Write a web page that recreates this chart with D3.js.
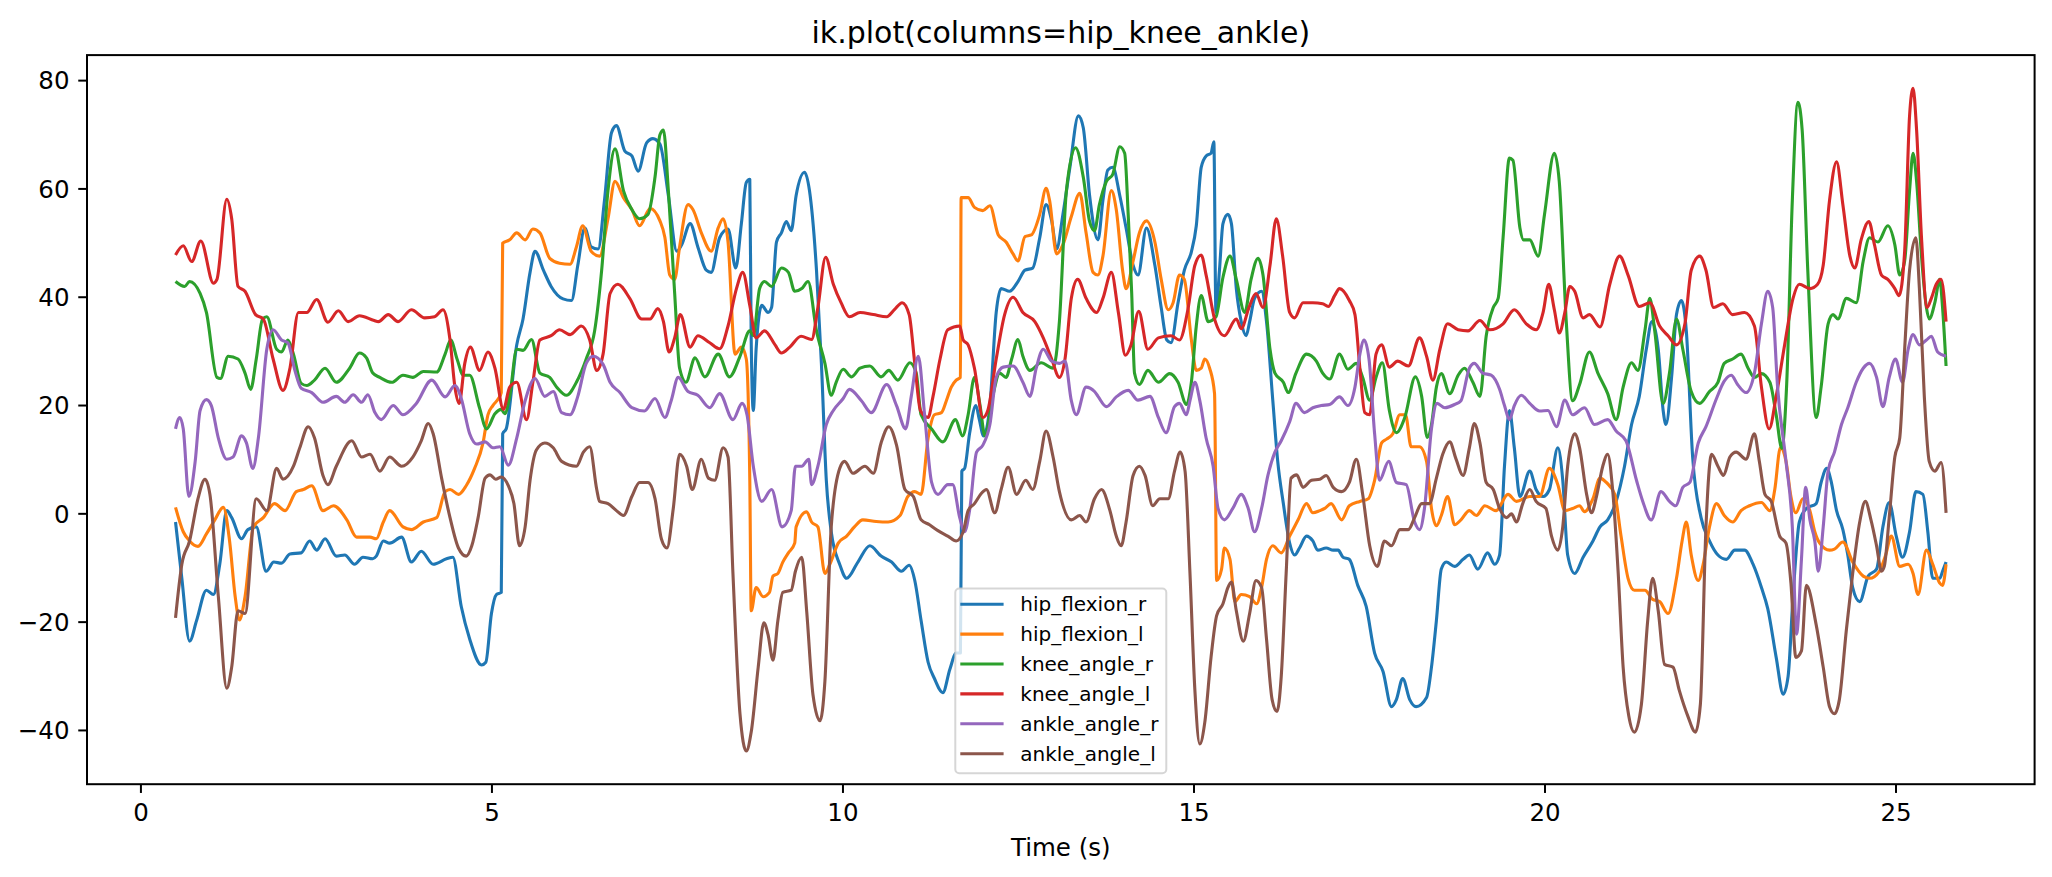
<!DOCTYPE html>
<html>
<head>
<meta charset="utf-8">
<script src="https://cdn.jsdelivr.net/npm/d3@7"></script>
<style>
  html, body { margin: 0; padding: 0; background: #ffffff; }
  svg { display: block; }
  text { font-family: "DejaVu Sans", sans-serif; fill: #000; }
</style>
</head>
<body>
<svg id="chart" width="2052" height="877"></svg>
<script>
// ---- data: [time (s), angle (deg)] ----
const hipFlexionR = [
[0.50,-1.6],[0.59,-12.0],[0.70,-23.6],[0.80,-19.8],[0.94,-14.2],[1.04,-15.0],[1.13,-9.4],[1.23,0.5],[1.30,-0.8],[1.44,-4.7],[1.53,-3.0],[1.65,-2.5],[1.79,-10.7],[1.90,-9.0],[2.01,-9.2],[2.13,-7.5],[2.29,-7.3],[2.41,-5.1],[2.51,-6.8],[2.63,-4.7],[2.79,-7.9],[2.91,-7.7],[3.05,-9.4],[3.17,-8.1],[3.31,-8.4],
[3.36,-7.9],[3.46,-5.1],[3.55,-5.5],[3.72,-4.4],[3.86,-9.0],[4.00,-7.0],[4.17,-9.4],[4.36,-8.4],[4.45,-8.1],[4.57,-17.2],[4.69,-23.2],[4.86,-28.0],[4.92,-27.5],[5.00,-18.5],[5.07,-15.0],[5.14,-14.6],[5.16,14.7],[5.21,15.6],[5.36,31.1],[5.45,35.9],[5.55,44.5],[5.62,48.4],[5.74,44.9],[5.85,41.9],[6.02,39.6],[6.14,39.3],[6.23,45.8],[6.33,52.7],[6.42,49.2],[6.52,48.8],[6.61,57.8],[6.71,70.3],
[6.78,71.6],[6.90,66.9],[7.00,66.0],[7.09,63.2],[7.21,68.4],[7.30,69.2],[7.40,68.2],[7.52,58.7],[7.64,48.4],[7.71,49.6],[7.83,53.5],[7.94,49.2],[8.06,44.9],[8.13,44.5],[8.25,50.9],[8.37,52.5],[8.48,45.3],[8.56,53.5],[8.63,61.1],[8.68,61.7],[8.70,32.0],[8.73,19.0],[8.77,30.3],[8.85,38.4],[8.94,37.1],[8.99,38.0],[9.06,50.1],[9.13,51.8],[9.20,53.9],[9.27,52.2],[9.34,58.7],[9.46,63.0],[9.53,59.6],[9.63,44.9],[9.70,27.7],[9.77,6.1],[9.84,-3.4],[9.96,-9.4],[10.06,-12.0],
[10.22,-9.0],[10.39,-6.0],[10.55,-7.9],[10.70,-9.0],[10.84,-10.7],[10.95,-9.6],[11.03,-12.4],[11.12,-19.8],[11.22,-27.5],[11.31,-30.5],[11.43,-33.1],[11.53,-28.8],[11.62,-25.8],[11.68,-25.8],[11.70,7.8],[11.74,8.3],[11.81,14.7],[11.90,19.9],[11.95,17.3],[12.01,14.3],[12.10,19.9],[12.19,37.1],[12.26,41.5],[12.38,41.0],[12.50,42.8],[12.60,44.9],[12.71,45.3],[12.81,50.9],[12.90,57.0],[12.98,54.0],[13.05,48.8],[13.14,55.2],[13.24,63.9],[13.36,73.4],[13.43,71.2],[13.52,58.7],
[13.64,50.5],[13.71,57.8],[13.78,63.4],[13.85,63.9],[13.95,58.7],[14.04,52.7],[14.14,45.8],[14.21,44.0],[14.33,52.7],[14.45,45.8],[14.54,38.0],[14.62,32.0],[14.68,31.5],[14.78,38.9],[14.87,44.9],[14.97,48.3],[15.04,53.1],[15.11,63.9],[15.18,66.0],[15.25,66.5],[15.29,68.6],[15.32,37.1],[15.37,44.9],[15.42,53.5],[15.49,55.2],[15.54,53.5],[15.61,41.5],[15.68,35.4],[15.75,32.8],[15.80,35.4],[15.87,39.7],[15.97,41.0],[16.04,35.4],[16.13,20.8],[16.20,9.6],[16.28,1.8],[16.37,-5.5],[16.44,-7.7],[16.51,-6.4],[16.61,-4.2],[16.70,-5.1],[16.77,-6.8],[16.89,-6.4],[16.99,-6.8],
[17.06,-6.8],[17.13,-8.1],[17.22,-8.5],[17.34,-13.3],[17.46,-17.2],[17.58,-25.8],[17.70,-29.2],[17.82,-35.7],[17.89,-34.4],[17.98,-30.5],[18.08,-34.4],[18.17,-35.7],[18.32,-34.0],[18.39,-28.4],[18.46,-19.8],[18.53,-10.3],[18.60,-9.0],[18.72,-9.8],[18.84,-8.5],[18.93,-7.7],[19.05,-10.3],[19.19,-7.3],[19.29,-9.4],[19.36,-7.7],[19.43,8.7],[19.50,19.0],[19.57,12.1],[19.65,3.1],[19.79,7.8],[19.88,4.4],[19.98,3.1],[20.07,4.4],[20.19,12.1],[20.26,6.1],[20.33,-7.7],
[20.43,-11.1],[20.55,-8.1],[20.69,-5.1],[20.79,-2.5],[20.90,-1.2],[21.02,2.2],[21.14,8.7],[21.24,16.4],[21.35,21.6],[21.45,30.3],[21.53,35.4],[21.62,30.3],[21.69,19.0],[21.73,16.4],[21.81,25.1],[21.88,36.7],[21.95,39.3],[22.02,33.7],[22.11,10.4],[22.23,-0.8],[22.35,-5.1],[22.47,-7.7],[22.59,-8.5],[22.71,-6.8],[22.85,-6.8],[22.97,-9.4],[23.09,-13.7],[23.18,-17.6],[23.30,-26.6],[23.40,-33.4],[23.47,-30.1],[23.54,-15.4],[23.63,-1.6],[23.73,0.9],
[23.87,1.8],[23.94,5.7],[24.02,8.3],[24.08,6.1],[24.16,0.5],[24.25,-3.0],[24.32,-7.7],[24.39,-13.7],[24.49,-16.3],[24.61,-11.6],[24.73,-10.3],[24.82,-2.5],[24.91,2.0],[25.01,-4.2],[25.10,-8.1],[25.20,-3.4],[25.29,4.0],[25.39,3.5],[25.46,-3.4],[25.53,-12.0],[25.63,-12.0],[25.67,-10.7],[25.72,-9.0]
];

const hipFlexionL = [
[0.50,1.1],[0.61,-3.4],[0.70,-5.1],[0.82,-6.1],[0.94,-3.8],[1.06,-1.2],[1.18,1.1],[1.27,-5.1],[1.35,-15.4],[1.41,-19.7],[1.49,-15.4],[1.61,-2.5],[1.75,-0.8],[1.91,1.8],[2.06,0.5],[2.22,4.0],[2.32,4.4],[2.44,5.1],[2.60,0.5],[2.75,1.4],[2.94,-1.2],[3.08,-4.4],[3.27,-4.4],
[3.36,-4.7],[3.46,-1.6],[3.55,0.5],[3.74,-2.5],[3.86,-3.0],[4.03,-1.6],[4.22,-0.8],[4.34,4.0],[4.41,4.4],[4.53,3.5],[4.64,5.1],[4.76,8.3],[4.88,13.0],[4.95,18.2],[5.02,19.9],[5.10,21.2],[5.14,22.3],[5.16,49.9],[5.26,50.5],[5.36,51.8],[5.48,50.5],[5.59,52.5],[5.69,51.8],[5.83,47.1],[5.97,46.2],[6.12,46.0],[6.21,49.2],[6.30,53.1],[6.42,48.4],[6.54,47.5],[6.66,54.4],[6.76,61.3],
[6.88,58.3],[7.00,56.1],[7.11,53.1],[7.26,56.3],[7.40,54.0],[7.47,51.0],[7.54,44.0],[7.61,43.2],[7.68,49.2],[7.80,57.0],[7.87,56.1],[7.99,51.8],[8.13,48.4],[8.23,52.7],[8.30,54.4],[8.37,50.1],[8.47,29.4],[8.56,30.7],[8.63,28.5],[8.68,6.1],[8.70,-18.0],[8.77,-13.7],[8.87,-15.4],[8.96,-14.6],[9.01,-11.6],[9.08,-11.1],[9.15,-9.0],[9.23,-7.3],[9.32,-5.5],[9.34,-2.5],[9.49,0.3],[9.56,-1.6],[9.65,-2.5],[9.75,-11.1],[9.82,-9.4],[9.94,-5.5],[10.06,-4.2],[10.17,-2.5],
[10.29,-1.2],[10.48,-1.5],[10.65,-1.6],[10.82,-0.4],[10.93,3.1],[11.03,4.0],[11.12,3.5],[11.22,13.9],[11.31,18.2],[11.41,18.6],[11.48,20.8],[11.55,23.3],[11.62,24.6],[11.68,25.1],[11.69,58.3],[11.79,58.3],[11.88,56.5],[12.00,55.9],[12.10,56.8],[12.22,51.4],[12.33,50.1],[12.43,47.9],[12.50,46.6],[12.60,51.1],[12.69,51.4],[12.81,55.2],[12.90,60.0],[12.95,57.8],[13.05,47.9],[13.14,49.6],[13.26,54.8],[13.38,59.1],[13.47,51.8],[13.57,44.5],
[13.64,44.0],[13.71,47.5],[13.83,59.6],[13.90,56.1],[13.99,44.9],[14.04,41.5],[14.14,46.6],[14.23,51.8],[14.33,54.0],[14.45,50.1],[14.54,43.2],[14.64,37.6],[14.71,38.9],[14.80,44.0],[14.87,43.2],[14.97,32.0],[15.04,26.4],[15.11,26.8],[15.16,28.5],[15.23,26.8],[15.30,22.1],[15.33,-12.4],[15.40,-10.3],[15.44,-6.4],[15.52,-8.5],[15.59,-16.3],[15.68,-15.0],[15.80,-15.4],[15.90,-16.7],[15.97,-13.7],[16.04,-8.5],[16.13,-6.0],[16.25,-7.3],[16.37,-4.2],[16.49,-1.2],[16.61,1.8],[16.70,0.1],[16.80,0.5],[16.87,0.9],[16.96,1.8],
[17.11,-1.2],[17.22,1.4],[17.37,2.2],[17.49,2.7],[17.58,6.1],[17.68,13.0],[17.75,13.7],[17.84,14.7],[17.94,18.2],[18.02,18.2],[18.10,12.3],[18.22,12.3],[18.32,9.6],[18.39,0.9],[18.46,-2.3],[18.53,-0.4],[18.62,3.1],[18.72,-2.1],[18.81,-1.2],[18.93,0.5],[19.03,-0.4],[19.15,1.4],[19.31,0.5],[19.48,3.5],[19.60,2.2],[19.79,3.1],[19.93,3.1],[20.07,8.3],[20.19,5.3],[20.29,0.5],[20.40,0.9],
[20.50,1.4],[20.57,0.3],[20.69,2.7],[20.79,6.5],[20.88,5.7],[21.00,3.5],[21.09,-4.2],[21.19,-12.0],[21.28,-14.2],[21.43,-14.2],[21.54,-15.9],[21.64,-16.3],[21.76,-18.5],[21.88,-12.0],[21.96,-5.1],[22.02,-1.6],[22.09,-7.7],[22.19,-12.4],[22.26,-9.4],[22.35,-2.5],[22.45,1.8],[22.56,-0.4],[22.68,-1.6],[22.80,0.5],[22.92,1.4],[23.09,2.0],[23.21,0.5],[23.28,4.4],[23.36,12.1],[23.44,9.6],[23.51,3.1],[23.58,0.1],[23.68,2.7],[23.78,0.5],
[23.85,-3.4],[23.92,-5.5],[24.06,-6.8],[24.13,-6.6],[24.25,-5.3],[24.39,-9.0],[24.54,-11.6],[24.63,-12.0],[24.77,-10.7],[24.86,-7.7],[24.94,-4.2],[25.06,-9.8],[25.18,-9.4],[25.25,-11.1],[25.32,-15.0],[25.44,-6.8],[25.53,-9.4],[25.63,-12.9],[25.67,-13.3],[25.72,-9.4]
];

const kneeAngleR = [
[0.50,42.8],[0.63,41.9],[0.70,42.8],[0.85,40.6],[0.94,37.1],[1.09,25.1],[1.14,24.9],[1.25,29.0],[1.39,28.5],[1.49,25.9],[1.57,22.9],[1.65,28.5],[1.74,35.9],[1.80,36.3],[1.94,30.3],[2.01,29.8],[2.10,32.0],[2.18,29.4],[2.29,24.0],[2.37,23.6],[2.48,24.6],[2.63,26.8],[2.79,24.2],[2.98,26.8],[3.12,29.6],[3.22,28.7],[3.31,25.9],
[3.41,25.1],[3.58,24.2],[3.74,25.5],[3.88,25.1],[4.03,26.2],[4.22,26.1],[4.34,29.4],[4.42,32.0],[4.51,28.5],[4.60,25.5],[4.69,25.5],[4.83,19.5],[4.93,15.6],[5.05,18.4],[5.14,19.2],[5.19,18.4],[5.26,21.6],[5.36,30.3],[5.45,30.1],[5.57,32.1],[5.69,25.9],[5.83,25.1],[5.93,23.3],[6.07,21.8],[6.21,24.2],[6.35,28.5],[6.47,33.7],[6.57,44.9],[6.66,59.6],[6.76,67.3],
[6.88,59.6],[7.00,56.1],[7.11,54.4],[7.23,55.2],[7.33,62.1],[7.40,69.9],[7.45,70.8],[7.52,59.6],[7.61,40.6],[7.68,26.8],[7.77,24.2],[7.90,28.7],[8.04,25.2],[8.23,29.4],[8.39,25.2],[8.54,29.0],[8.68,33.7],[8.73,32.8],[8.82,41.5],[8.89,42.8],[8.99,41.9],[9.13,45.3],[9.23,44.5],[9.32,41.0],[9.42,41.5],[9.51,42.8],[9.63,33.7],[9.75,27.7],[9.84,21.8],[9.91,24.2],[10.01,26.6],[10.13,25.2],
[10.25,26.8],[10.39,27.2],[10.55,25.2],[10.66,26.4],[10.79,24.6],[10.96,27.8],[11.05,25.9],[11.12,18.2],[11.27,15.6],[11.43,13.2],[11.61,17.3],[11.71,14.3],[11.79,18.2],[11.88,25.1],[11.96,19.9],[12.03,14.3],[12.14,21.6],[12.24,25.9],[12.33,25.1],[12.41,28.5],[12.50,32.1],[12.57,29.0],[12.67,26.4],[12.83,27.8],[13.00,26.8],[13.09,35.4],[13.19,59.6],[13.32,67.5],[13.43,62.1],[13.52,53.9],
[13.59,52.2],[13.66,57.0],[13.76,61.3],[13.85,62.6],[13.95,67.7],[14.02,66.5],[14.07,55.2],[14.12,40.6],[14.16,25.9],[14.23,23.8],[14.35,26.4],[14.50,24.2],[14.66,25.8],[14.78,24.2],[14.90,20.1],[14.97,24.2],[15.04,34.6],[15.11,40.2],[15.21,35.4],[15.32,36.3],[15.42,43.6],[15.52,47.5],[15.61,43.2],[15.73,37.1],[15.82,43.2],[15.92,47.1],[15.99,44.0],[16.09,30.3],[16.16,25.9],[16.28,24.2],[16.35,22.3],[16.46,25.9],[16.61,29.4],[16.75,28.1],[16.84,25.9],[16.94,24.8],
[17.08,29.4],[17.20,26.6],[17.32,27.7],[17.41,25.1],[17.51,20.9],[17.60,25.1],[17.69,27.8],[17.79,19.0],[17.89,14.9],[18.01,17.7],[18.16,25.2],[18.25,21.6],[18.33,14.0],[18.39,16.4],[18.46,23.3],[18.53,25.8],[18.65,22.1],[18.77,25.5],[18.86,26.8],[18.98,24.2],[19.08,21.6],[19.17,32.8],[19.27,38.0],[19.34,39.7],[19.41,50.9],[19.50,65.6],[19.55,65.2],[19.65,52.7],[19.70,50.5],[19.79,50.5],[19.91,47.5],[20.00,55.2],[20.14,66.5],[20.21,61.3],[20.31,35.4],[20.40,20.8],
[20.50,23.8],[20.64,29.8],[20.76,25.9],[20.90,22.1],[21.02,17.3],[21.12,23.3],[21.24,27.8],[21.33,26.4],[21.43,33.7],[21.50,39.7],[21.57,33.7],[21.69,20.3],[21.78,25.9],[21.88,35.9],[21.97,30.3],[22.09,22.5],[22.21,20.3],[22.35,22.5],[22.47,24.2],[22.56,27.7],[22.68,28.5],[22.80,29.4],[22.90,26.8],[22.99,25.1],[23.09,25.8],[23.21,24.2],[23.30,18.2],[23.38,12.0],[23.45,24.0],[23.53,57.8],[23.61,75.9],[23.67,70.8],[23.75,44.9],
[23.87,17.7],[23.94,23.3],[24.04,35.0],[24.11,36.7],[24.18,35.9],[24.30,39.7],[24.44,38.9],[24.54,46.6],[24.63,50.9],[24.75,50.1],[24.89,53.1],[24.99,49.6],[25.06,44.0],[25.13,46.6],[25.20,59.6],[25.25,66.5],[25.30,61.3],[25.37,47.5],[25.44,38.0],[25.48,35.9],[25.56,38.9],[25.63,43.2],[25.67,38.0],[25.72,27.2]
];

const kneeAngleL = [
[0.50,47.7],[0.61,49.4],[0.73,46.5],[0.86,50.3],[1.04,42.5],[1.09,43.2],[1.23,58.0],[1.30,54.4],[1.39,41.9],[1.49,41.0],[1.64,36.7],[1.75,35.9],[1.89,28.5],[2.03,22.7],[2.13,26.8],[2.25,37.1],[2.37,37.1],[2.51,39.5],[2.67,35.3],[2.82,37.4],[2.96,35.4],[3.12,36.5],[3.33,35.6],
[3.39,35.4],[3.53,36.7],[3.67,35.4],[3.86,37.6],[4.05,36.1],[4.19,36.3],[4.31,37.6],[4.41,32.0],[4.48,23.3],[4.54,20.3],[4.62,27.7],[4.70,30.7],[4.83,26.4],[4.95,29.8],[5.05,26.8],[5.17,19.2],[5.26,23.3],[5.36,24.2],[5.50,17.3],[5.59,24.2],[5.69,32.0],[5.85,32.8],[5.97,33.9],[6.12,33.0],[6.28,34.6],[6.40,32.0],[6.50,26.4],[6.59,29.4],[6.69,40.6],
[6.80,42.3],[6.97,39.7],[7.14,35.9],[7.26,35.9],[7.37,37.8],[7.45,35.4],[7.53,29.8],[7.61,32.4],[7.69,36.7],[7.83,30.7],[7.94,32.8],[8.11,31.5],[8.25,30.4],[8.37,34.6],[8.49,41.5],[8.58,44.5],[8.68,38.4],[8.77,32.4],[8.89,33.7],[9.04,31.1],[9.13,29.6],[9.25,30.7],[9.41,32.7],[9.56,32.1],[9.65,38.0],[9.76,47.3],[9.87,42.3],[9.98,38.9],[10.10,36.3],
[10.25,37.1],[10.44,36.7],[10.63,36.3],[10.74,37.6],[10.85,38.9],[10.95,36.7],[11.03,27.7],[11.11,19.0],[11.22,17.7],[11.29,21.6],[11.39,28.5],[11.50,33.9],[11.67,34.6],[11.72,32.0],[11.79,31.1],[11.88,26.8],[12.00,17.7],[12.07,19.0],[12.19,28.5],[12.31,36.7],[12.43,39.9],[12.57,37.1],[12.74,35.4],[12.86,32.4],[12.98,28.5],[13.09,25.1],[13.17,28.5],[13.26,39.7],[13.35,43.2],[13.47,39.7],
[13.62,37.1],[13.71,39.7],[13.83,44.5],[13.93,37.1],[14.03,29.2],[14.11,31.1],[14.22,37.3],[14.35,30.3],[14.50,32.4],[14.68,32.8],[14.80,32.0],[14.92,37.6],[15.02,45.8],[15.11,47.7],[15.18,44.0],[15.30,35.9],[15.44,32.8],[15.61,35.9],[15.68,34.1],[15.79,38.0],[15.89,40.6],[15.99,38.0],[16.09,45.8],[16.18,54.4],[16.27,47.5],[16.37,37.1],[16.44,36.1],[16.56,38.9],[16.70,38.9],[16.84,38.7],[16.92,38.2],
[17.01,40.2],[17.08,41.5],[17.22,39.3],[17.30,36.7],[17.37,26.8],[17.44,18.6],[17.51,18.2],[17.60,29.4],[17.68,31.1],[17.79,27.0],[17.91,28.1],[18.06,27.2],[18.22,32.4],[18.32,29.0],[18.41,24.6],[18.51,30.3],[18.62,35.0],[18.77,33.9],[18.91,33.7],[19.08,35.6],[19.22,33.9],[19.41,35.0],[19.57,37.6],[19.74,35.0],[19.88,33.9],[19.98,37.1],[20.06,42.3],[20.14,37.6],[20.21,33.3],[20.29,37.1],[20.36,41.9],
[20.43,41.0],[20.55,36.1],[20.64,36.7],[20.79,34.4],[20.93,42.3],[21.07,47.5],[21.19,44.0],[21.35,38.2],[21.50,38.9],[21.64,34.6],[21.76,32.8],[21.88,31.1],[22.00,35.0],[22.09,44.9],[22.21,47.5],[22.30,44.9],[22.41,38.0],[22.54,38.7],[22.68,36.7],[22.85,37.1],[22.99,34.6],[23.09,23.3],[23.20,15.6],[23.30,21.6],[23.42,31.1],[23.54,39.7],[23.63,42.3],[23.78,41.5],
[23.89,42.3],[23.97,45.8],[24.06,57.8],[24.16,64.9],[24.25,57.0],[24.35,47.5],[24.42,45.3],[24.51,50.5],[24.62,53.9],[24.70,49.6],[24.80,44.0],[24.89,43.2],[24.99,41.5],[25.05,40.2],[25.13,48.4],[25.20,73.4],[25.25,78.5],[25.30,70.8],[25.37,50.9],[25.45,38.0],[25.51,39.7],[25.58,42.3],[25.65,43.2],[25.72,35.4]
];

const ankleAngleR = [
[0.50,15.6],[0.56,17.7],[0.61,15.6],[0.69,3.1],[0.78,9.6],[0.85,19.0],[0.94,21.0],[1.01,19.9],[1.11,13.9],[1.23,10.0],[1.32,10.4],[1.44,14.3],[1.51,13.0],[1.60,8.3],[1.68,13.9],[1.80,30.3],[1.89,33.9],[2.01,32.0],[2.10,31.5],[2.20,26.4],[2.29,23.1],[2.44,22.3],[2.60,20.5],[2.79,21.6],[2.91,20.5],[3.03,21.9],[3.15,20.5],[3.24,21.9],[3.34,18.6],
[3.43,17.3],[3.60,19.9],[3.74,18.2],[3.93,20.3],[4.15,24.6],[4.34,21.5],[4.48,23.6],[4.57,21.2],[4.69,14.7],[4.79,12.8],[4.91,13.2],[5.02,12.1],[5.12,12.3],[5.24,8.9],[5.36,13.9],[5.48,20.8],[5.62,24.9],[5.76,21.6],[5.88,22.5],[6.00,18.6],[6.12,18.2],[6.23,21.6],[6.35,27.7],[6.45,29.0],[6.59,27.5],[6.69,24.2],
[6.83,22.3],[7.00,19.5],[7.18,18.9],[7.33,21.2],[7.47,17.7],[7.56,20.8],[7.66,25.1],[7.80,22.5],[7.94,21.8],[8.11,19.5],[8.25,22.1],[8.44,17.3],[8.57,20.3],[8.64,18.2],[8.73,8.7],[8.85,2.2],[8.99,4.4],[9.14,-2.5],[9.27,0.5],[9.33,8.7],[9.42,8.7],[9.52,10.0],[9.56,5.3],[9.65,8.7],[9.77,16.4],[9.87,19.0],[10.01,21.2],[10.10,22.9],
[10.27,20.8],[10.41,18.6],[10.63,23.8],[10.77,19.9],[10.90,15.6],[10.98,21.6],[11.08,29.0],[11.17,18.2],[11.27,5.7],[11.36,3.5],[11.50,5.3],[11.57,5.3],[11.67,-0.8],[11.74,-3.4],[11.81,0.5],[11.91,11.3],[12.00,12.6],[12.10,16.4],[12.19,25.1],[12.29,27.0],[12.43,27.2],[12.57,24.2],[12.67,21.6],[12.76,26.8],[12.86,30.3],[12.98,28.1],[13.09,27.7],[13.17,28.1],[13.26,20.8],[13.33,18.2],[13.47,23.3],[13.59,22.5],
[13.64,21.6],[13.76,19.7],[13.90,21.5],[14.07,22.7],[14.21,20.9],[14.38,21.6],[14.50,17.7],[14.61,14.9],[14.73,19.7],[14.80,20.3],[14.90,18.2],[14.95,20.8],[15.02,24.2],[15.09,20.8],[15.18,13.9],[15.28,8.7],[15.35,0.9],[15.44,-1.2],[15.56,0.9],[15.68,3.5],[15.78,0.9],[15.87,-3.4],[15.97,0.9],[16.06,7.0],[16.16,11.3],[16.25,13.4],[16.37,16.9],[16.46,20.3],[16.58,18.6],[16.70,19.5],[16.82,19.9],[16.94,20.1],
[17.08,21.5],[17.20,19.9],[17.30,23.3],[17.37,29.4],[17.43,32.0],[17.50,28.5],[17.58,14.7],[17.65,6.1],[17.78,9.6],[17.89,5.7],[18.03,5.3],[18.15,-1.6],[18.22,-3.0],[18.29,0.9],[18.39,15.6],[18.47,20.3],[18.58,19.5],[18.72,20.1],[18.81,20.8],[18.93,26.8],[19.00,27.7],[19.12,25.9],[19.24,25.5],[19.36,22.9],[19.43,19.9],[19.50,17.3],[19.57,19.9],[19.67,21.8],[19.79,20.3],[19.93,18.9],[20.05,19.0],[20.17,16.0],[20.29,20.9],[20.40,18.2],
[20.57,19.5],[20.71,16.4],[20.90,17.3],[21.02,15.2],[21.16,13.4],[21.31,6.1],[21.40,2.2],[21.52,-1.2],[21.66,4.0],[21.78,2.2],[21.87,1.4],[21.97,4.8],[22.07,5.7],[22.19,13.0],[22.30,16.0],[22.45,21.2],[22.56,24.4],[22.66,25.5],[22.75,23.8],[22.87,22.3],[22.99,25.9],[23.09,35.0],[23.18,41.0],[23.25,38.0],[23.32,23.3],[23.44,9.6],[23.53,-2.5],[23.59,-22.3],[23.66,-8.5],[23.72,4.8],[23.78,-1.2],
[23.85,-5.1],[23.90,-10.7],[23.97,-2.5],[24.04,7.8],[24.13,11.3],[24.23,16.4],[24.32,19.5],[24.44,24.2],[24.54,26.8],[24.63,27.7],[24.73,25.1],[24.82,19.7],[24.91,25.1],[25.00,28.5],[25.10,24.2],[25.18,30.3],[25.25,33.0],[25.34,31.1],[25.44,32.0],[25.51,32.7],[25.60,29.8],[25.72,29.0]
];

const ankleAngleL = [
[0.50,-19.3],[0.59,-9.4],[0.70,-5.1],[0.82,2.7],[0.92,6.3],[0.99,3.5],[1.11,-15.4],[1.23,-32.3],[1.30,-28.4],[1.39,-18.0],[1.49,-18.5],[1.65,2.7],[1.80,0.5],[1.94,8.3],[2.03,6.3],[2.18,8.7],[2.27,12.1],[2.39,16.0],[2.48,13.9],[2.60,7.0],[2.67,5.3],[2.79,8.7],[3.01,13.4],[3.15,10.4],[3.27,10.9],
[3.41,7.8],[3.55,10.4],[3.72,8.7],[3.88,10.4],[4.00,13.4],[4.10,16.6],[4.17,14.7],[4.29,6.5],[4.41,-0.8],[4.53,-6.4],[4.64,-7.9],[4.72,-6.0],[4.81,-0.8],[4.91,6.5],[4.98,7.1],[5.06,6.3],[5.14,6.7],[5.24,5.1],[5.32,1.8],[5.40,-6.0],[5.48,-2.5],[5.55,6.1],[5.64,11.7],[5.76,13.0],[5.88,12.1],[6.00,9.6],[6.21,8.7],[6.31,11.3],[6.40,12.3],[6.50,4.4],[6.54,2.2],[6.66,1.8],
[6.78,0.5],[6.88,-0.4],[7.00,3.1],[7.11,5.7],[7.23,5.7],[7.33,2.7],[7.42,-4.7],[7.50,-6.4],[7.59,0.9],[7.68,10.9],[7.78,8.7],[7.86,4.4],[7.99,10.0],[8.09,6.5],[8.18,6.1],[8.30,12.1],[8.37,10.4],[8.44,-11.1],[8.54,-37.0],[8.63,-43.9],[8.70,-40.4],[8.80,-28.4],[8.88,-20.2],[8.94,-22.4],[9.01,-27.1],[9.08,-19.8],[9.15,-14.6],[9.27,-14.2],[9.33,-10.7],[9.42,-8.1],[9.49,-18.0],[9.58,-33.5],[9.68,-38.3],[9.75,-31.0],[9.84,-2.5],[9.96,8.3],[10.03,9.6],[10.15,7.4],
[10.32,8.7],[10.44,7.4],[10.55,13.0],[10.66,16.0],[10.77,12.6],[10.89,4.4],[11.01,3.1],[11.12,-1.2],[11.24,-2.1],[11.36,-3.2],[11.50,-4.2],[11.62,-5.1],[11.72,-3.4],[11.79,0.5],[11.88,1.8],[11.98,3.7],[12.05,4.4],[12.17,0.1],[12.26,4.4],[12.36,8.5],[12.48,3.5],[12.61,6.1],[12.71,4.4],[12.81,9.6],[12.90,15.2],[13.00,10.4],[13.09,4.0],[13.26,-1.2],[13.38,-0.4],[13.47,-1.6],[13.59,2.7],
[13.69,4.4],[13.81,0.5],[13.90,-4.2],[13.97,-6.0],[14.04,-1.6],[14.14,7.0],[14.23,8.7],[14.31,7.0],[14.42,1.4],[14.52,2.7],[14.64,2.7],[14.73,7.8],[14.81,11.3],[14.88,7.8],[14.95,-11.1],[15.02,-32.7],[15.09,-42.6],[15.16,-38.7],[15.25,-26.6],[15.33,-18.9],[15.42,-16.7],[15.49,-13.7],[15.54,-12.7],[15.61,-18.0],[15.71,-23.6],[15.80,-18.5],[15.89,-12.4],[15.97,-13.7],[16.04,-23.2],[16.12,-34.4],[16.19,-36.6],[16.25,-30.1],[16.32,-11.1],[16.39,6.5],[16.47,7.1],[16.56,4.8],[16.68,6.1],[16.80,6.3],[16.89,7.0],[16.99,4.8],
[17.11,4.0],[17.22,5.7],[17.32,10.0],[17.41,3.5],[17.51,-6.0],[17.62,-9.8],[17.72,-5.1],[17.82,-6.0],[17.94,-3.0],[18.06,-3.0],[18.15,-0.8],[18.25,1.8],[18.36,1.8],[18.46,6.5],[18.55,10.9],[18.65,13.2],[18.74,10.0],[18.84,7.0],[18.93,12.1],[19.00,16.6],[19.08,13.0],[19.17,5.7],[19.27,4.4],[19.36,0.9],[19.46,-0.8],[19.53,-0.1],[19.60,-1.6],[19.69,1.8],[19.79,4.4],[19.88,2.2],[20.02,0.9],[20.10,-4.2],[20.19,-6.8],[20.26,-2.5],[20.33,8.7],
[20.43,14.7],[20.50,12.1],[20.60,3.5],[20.67,0.1],[20.74,3.1],[20.83,8.7],[20.90,10.9],[20.97,4.4],[21.05,-11.1],[21.12,-28.4],[21.20,-37.4],[21.28,-40.4],[21.38,-35.3],[21.47,-19.8],[21.54,-12.0],[21.62,-18.0],[21.71,-27.9],[21.83,-28.4],[21.92,-32.7],[22.04,-37.4],[22.15,-40.4],[22.22,-35.3],[22.30,-2.5],[22.38,10.9],[22.47,8.7],[22.55,7.0],[22.64,10.4],[22.73,11.3],[22.87,10.0],[22.99,14.7],[23.06,9.6],[23.14,3.5],[23.23,2.2],[23.35,-4.2],[23.44,-5.5],[23.51,-12.9],[23.58,-26.6],[23.66,-25.4],[23.73,-13.3],
[23.87,-20.6],[23.97,-28.4],[24.06,-35.7],[24.13,-37.0],[24.20,-34.4],[24.30,-21.5],[24.39,-11.1],[24.49,-1.6],[24.57,2.2],[24.65,-1.2],[24.73,-6.0],[24.80,-10.7],[24.84,-9.8],[24.91,-0.8],[24.99,10.4],[25.06,13.9],[25.13,30.3],[25.20,44.9],[25.29,50.9],[25.34,41.5],[25.41,21.6],[25.48,9.6],[25.56,7.8],[25.65,9.4],[25.72,0.1]
];

const seriesNames = ["hip_flexion_r", "hip_flexion_l", "knee_angle_r", "knee_angle_l", "ankle_angle_r", "ankle_angle_l"];
const seriesColors = ["#1f77b4", "#ff7f0e", "#2ca02c", "#d62728", "#9467bd", "#8c564b"];
const xTicks = [0, 5, 10, 15, 20, 25];
const yTicks = [-40, -20, 0, 20, 40, 60, 80];
const titleText = "ik.plot(columns=hip_knee_ankle)";
const xLabelText = "Time (s)";

// ---- layout ----
const plot = { left: 87, right: 2034.6, top: 55.1, bottom: 784.2 };
const tickLen = 8.75, tickPad = 8.75;
const tickFont = 24.5, titleFont = 30, legendFont = 20;

const allSeries = [hipFlexionR, hipFlexionL, kneeAngleR, kneeAngleL, ankleAngleR, ankleAngleL];
const allT = allSeries.flat().map(d => d[0]);
const allV = allSeries.flat().map(d => d[1]);
const [tMin, tMax] = d3.extent(allT);
const [vMin, vMax] = d3.extent(allV);
const tPad = (tMax - tMin) * 0.05, vPad = (vMax - vMin) * 0.05;

const x = d3.scaleLinear().domain([tMin - tPad, tMax + tPad]).range([plot.left, plot.right]);
const y = d3.scaleLinear().domain([vMin - vPad, vMax + vPad]).range([plot.bottom, plot.top]);

const svg = d3.select("#chart");
svg.append("rect").attr("x", 0).attr("y", 0).attr("width", 2052).attr("height", 877).attr("fill", "#fff");

// lines
const line = d3.line().x(d => x(d[0])).y(d => y(d[1])).curve(d3.curveMonotoneX);
const gLines = svg.append("g");
allSeries.forEach((s, i) => {
  gLines.append("path")
    .attr("d", line(s))
    .attr("fill", "none")
    .attr("stroke", seriesColors[i])
    .attr("stroke-width", 3.1)
    .attr("stroke-linejoin", "round")
    .attr("stroke-linecap", "butt");
});

// axes
const fmt = d3.format("d");
const xAxis = d3.axisBottom(x).tickValues(xTicks).tickSize(tickLen).tickPadding(tickPad).tickFormat(fmt);
const gx = svg.append("g").attr("transform", `translate(0,${plot.bottom})`).call(xAxis);
gx.select(".domain").remove();
gx.selectAll(".tick line").attr("stroke", "#000").attr("stroke-width", 2);
gx.selectAll(".tick text").attr("font-family", "DejaVu Sans").attr("font-size", tickFont).attr("fill", "#000")
  .attr("y", tickLen + tickPad).attr("dy", "0.78em");

const yAxis = d3.axisLeft(y).tickValues(yTicks).tickSize(tickLen).tickPadding(tickPad).tickFormat(fmt);
const gy = svg.append("g").attr("transform", `translate(${plot.left},0)`).call(yAxis);
gy.select(".domain").remove();
gy.selectAll(".tick line").attr("stroke", "#000").attr("stroke-width", 2);
gy.selectAll(".tick text").attr("font-family", "DejaVu Sans").attr("font-size", tickFont).attr("fill", "#000")
  .attr("dy", "0.36em");

// frame
svg.append("rect")
  .attr("x", plot.left).attr("y", plot.top)
  .attr("width", plot.right - plot.left).attr("height", plot.bottom - plot.top)
  .attr("fill", "none").attr("stroke", "#000").attr("stroke-width", 2);

// title and x label
const cx = (plot.left + plot.right) / 2;
svg.append("text").attr("x", cx).attr("y", 43).attr("text-anchor", "middle")
  .attr("font-size", titleFont).text(titleText);
svg.append("text").attr("x", cx).attr("y", 856).attr("text-anchor", "middle")
  .attr("font-size", tickFont).text(xLabelText);

// legend (lower center)
const legW = 211, legH = 184.7, rowH = 29.9;
const legX = cx - legW / 2, legY = plot.bottom - 11 - legH;
const gLeg = svg.append("g");
gLeg.append("rect")
  .attr("x", legX).attr("y", legY).attr("width", legW).attr("height", legH)
  .attr("rx", 4).attr("ry", 4)
  .attr("fill", "#fff").attr("fill-opacity", 0.8)
  .attr("stroke", "#cccccc").attr("stroke-opacity", 0.8).attr("stroke-width", 2);
seriesNames.forEach((name, i) => {
  const ry = legY + 15.7 + i * rowH;
  gLeg.append("line")
    .attr("x1", legX + 5).attr("x2", legX + 48.3)
    .attr("y1", ry).attr("y2", ry)
    .attr("stroke", seriesColors[i]).attr("stroke-width", 3.1);
  gLeg.append("text")
    .attr("x", legX + 65).attr("y", ry + 7.2)
    .attr("font-size", legendFont).text(name);
});
</script>
</body>
</html>
